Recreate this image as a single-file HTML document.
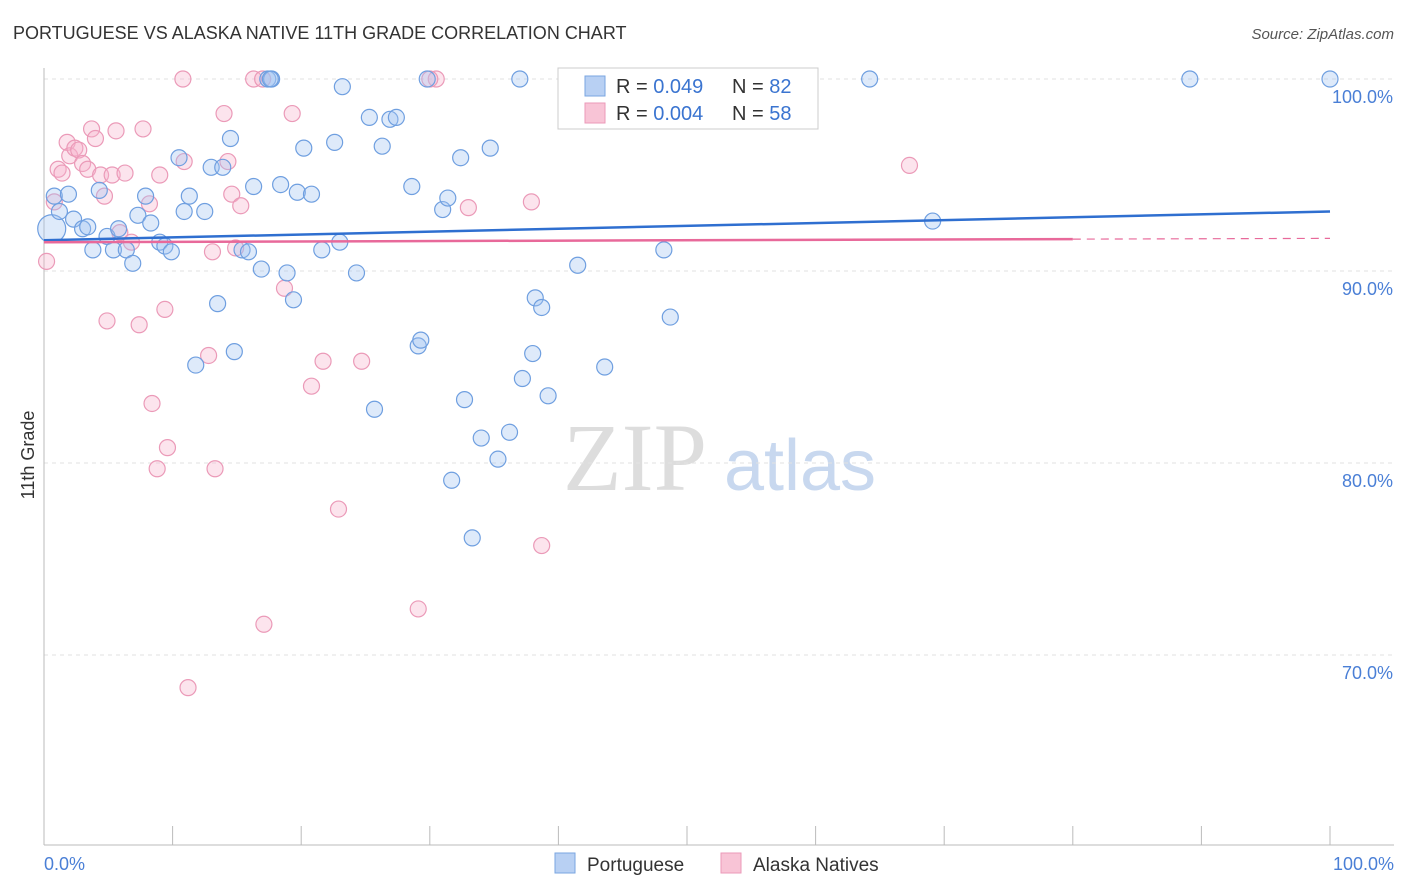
<!DOCTYPE html>
<html><head><meta charset="utf-8"><style>
body{margin:0;background:#fff;font-family:"Liberation Sans",sans-serif;}
</style></head><body>
<svg width="1406" height="892" xmlns="http://www.w3.org/2000/svg" style="display:block">
<text x="13" y="39" font-size="18" fill="#333">PORTUGUESE VS ALASKA NATIVE 11TH GRADE CORRELATION CHART</text>
<text x="1394" y="39" font-size="15" fill="#555" font-style="italic" text-anchor="end">Source: ZipAtlas.com</text>
<g>
<text x="635" y="490" font-size="96" fill="#ddd" font-family="Liberation Serif,serif" text-anchor="middle">ZIP</text>
<text x="800" y="490" font-size="72" fill="#c8d8ef" text-anchor="middle">atlas</text>
</g>
<g id="grid"></g>
<g id="axes"></g>
<g id="marks"></g>
<text transform="translate(34,455) rotate(-90)" font-size="18" fill="#333" text-anchor="middle">11th Grade</text>
<text x="44" y="870" font-size="18" fill="#4a7fd6">0.0%</text>
<text x="1394" y="870" font-size="18" fill="#4a7fd6" text-anchor="end">100.0%</text>
<g>
<rect x="558" y="68" width="260" height="61" fill="#fff" stroke="#ccc"/>
<rect x="585" y="76" width="20" height="20" fill="#b8d0f3" stroke="#7aa6e0"/>
<text x="616" y="93" font-size="20" fill="#333">R = <tspan fill="#3a74d0">0.049</tspan></text>
<text x="732" y="93" font-size="20" fill="#333">N = <tspan fill="#3a74d0">82</tspan></text>
<rect x="585" y="103" width="20" height="20" fill="#f8c4d6" stroke="#eb9ab8"/>
<text x="616" y="120" font-size="20" fill="#333">R = <tspan fill="#3a74d0">0.004</tspan></text>
<text x="732" y="120" font-size="20" fill="#333">N = <tspan fill="#3a74d0">58</tspan></text>
</g>
<g>
<rect x="555" y="853" width="20" height="20" fill="#b8d0f3" stroke="#7aa6e0"/>
<text x="587" y="871" font-size="19" fill="#333">Portuguese</text>
<rect x="721" y="853" width="20" height="20" fill="#f8c4d6" stroke="#eb9ab8"/>
<text x="753" y="871" font-size="19" fill="#333">Alaska Natives</text>
</g>
</svg>
<script>
const yTicks=[100,90,80,70];
const yTickLabels=["100.0%","90.0%","80.0%","70.0%"];
const xTicks=[0,10,20,30,40,50,60,70,80,90,100];
const blueX=[0.6,0.8,1.9,1.2,2.3,3.0,3.4,3.8,4.3,4.9,5.4,5.8,6.4,6.9,7.3,7.9,8.3,9.0,9.4,9.9,10.5,10.9,11.3,11.8,12.5,13.0,13.5,13.9,14.5,14.8,15.4,15.9,16.3,16.9,17.4,17.7,18.4,18.9,19.4,19.7,20.2,20.8,21.6,22.6,23.0,23.2,24.3,25.3,25.7,26.3,26.9,27.4,28.6,29.1,29.3,29.8,31.0,31.4,31.7,32.4,32.7,33.3,34.0,34.7,35.3,36.2,37.0,37.2,38.0,38.2,38.7,39.2,41.5,43.6,48.2,48.7,64.2,69.1,89.1,100,51.5,17.6];
const blueY=[92.2,93.9,94.0,93.1,92.7,92.2,92.3,91.1,94.2,91.8,91.1,92.2,91.1,90.4,92.9,93.9,92.5,91.5,91.3,91.0,95.9,93.1,93.9,85.1,93.1,95.4,88.3,95.4,96.9,85.8,91.1,91.0,94.4,90.1,100,100,94.5,89.9,88.5,94.1,96.4,94.0,91.1,96.7,91.5,99.6,89.9,98.0,82.8,96.5,97.9,98.0,94.4,86.1,86.4,100,93.2,93.8,79.1,95.9,83.3,76.1,81.3,96.4,80.2,81.6,100,84.4,85.7,88.6,88.1,83.5,90.3,85.0,91.1,87.6,100,92.6,100,100,100,100];
const pinkX=[0.2,0.8,1.1,1.4,1.8,2.0,2.4,2.7,3.0,3.4,3.7,4.0,4.4,4.7,4.9,5.3,5.6,5.9,6.3,6.8,7.4,7.7,8.2,8.4,8.8,9.0,9.4,9.6,10.8,10.9,11.2,12.8,13.1,13.3,14.0,14.3,14.6,14.9,15.3,16.3,17.1,18.7,19.3,20.8,21.7,22.9,24.7,29.1,30.5,33.0,37.9,38.7,41.4,44.8,45.6,67.3,17.0,30.0];
const pinkY=[90.5,93.6,95.3,95.1,96.7,96.0,96.4,96.3,95.6,95.3,97.4,96.9,95.0,93.9,87.4,95.0,97.3,92.0,95.1,91.5,87.2,97.4,93.5,83.1,79.7,95.0,88.0,80.8,100,95.7,68.3,85.6,91.0,79.7,98.2,95.7,94.0,91.2,93.4,100,71.6,89.1,98.2,84.0,85.3,77.6,85.3,72.4,100,93.3,93.6,75.7,100,100,100,95.5,100,100];
const blueTrend=[91.6,93.1];
const pinkTrend=[91.5,91.7];
const X=v=>44+v*12.86, Y=v=>79+(100-v)*19.2;
const NS="http://www.w3.org/2000/svg";
function mk(t,a,p){const e=document.createElementNS(NS,t);for(const k in a)e.setAttribute(k,a[k]);p.appendChild(e);return e;}
const grid=document.getElementById('grid'),axes=document.getElementById('axes'),marks=document.getElementById('marks');
yTicks.forEach((t,i)=>{
 const l=mk('line',{x1:44,x2:1394,y1:Y(t),y2:Y(t),stroke:'#e2e2e2','stroke-dasharray':'4,4'},grid);
 
 
 const tx=mk('text',{x:1393,y:Y(t)+24,'font-size':18,fill:'#4a7fd6','text-anchor':'end'},axes);
 tx.textContent=yTickLabels[i];
 
 
});
const ya=mk('line',{x1:44,x2:44,y1:68,y2:845,stroke:'#bbb'},axes);


const xa=mk('line',{x1:44,x2:1394,y1:845,y2:845,stroke:'#bbb'},axes);


xTicks.forEach(t=>{
 const l=mk('line',{x1:X(t),x2:X(t),y1:826,y2:845,stroke:'#bbb'},axes);
 
 
});
function pts(xs,ys,fill,stroke,name){
 xs.forEach((x,i)=>{
  const r=(i===0&&name==='blue-point')?14:8;
  const c=mk('circle',{cx:X(x),cy:Y(ys[i]),r:r,fill:fill,stroke:stroke,'stroke-width':1.2},marks);
  
  
 });
}
pts(pinkX,pinkY,'rgba(246,178,204,0.35)','#eb9ab8','pink-point');
pts(blueX,blueY,'rgba(160,195,240,0.35)','#6f9fe0','blue-point');
const bt=mk('line',{x1:X(0),y1:Y(blueTrend[0]),x2:X(100),y2:Y(blueTrend[1]),stroke:'#2f6fd0','stroke-width':2.5},marks);


const pe=pinkTrend[0]+(pinkTrend[1]-pinkTrend[0])*0.8;
const pt=mk('line',{x1:X(0),y1:Y(pinkTrend[0]),x2:X(80),y2:Y(pe),stroke:'#e8699a','stroke-width':2.5},marks);


const pd=mk('line',{x1:X(80),y1:Y(pe),x2:X(100),y2:Y(pinkTrend[1]),stroke:'#e8699a','stroke-width':1.2,'stroke-dasharray':'8,6'},marks);


</script>
</body></html>
